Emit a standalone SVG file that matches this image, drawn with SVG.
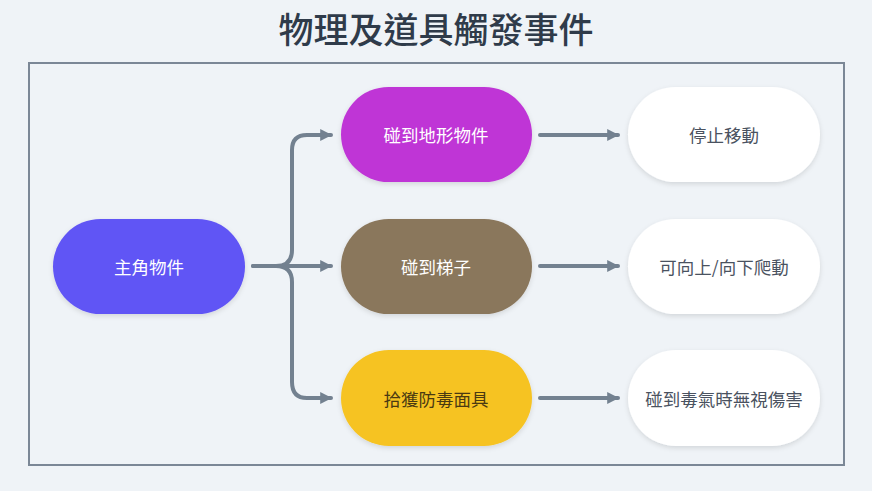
<svg xmlns="http://www.w3.org/2000/svg" width="872" height="491" viewBox="0 0 872 491">
<defs>
<filter id="sh" x="-20%" y="-20%" width="140%" height="150%">
<feDropShadow dx="0" dy="2" stdDeviation="2.5" flood-color="#000" flood-opacity="0.12"/>
</filter>
<marker id="arr" viewBox="0 0 10 10" refX="9" refY="5" markerWidth="3" markerHeight="3" orient="auto" markerUnits="strokeWidth">
<path d="M0,0 L10,5 L0,10 z" fill="#738190"/>
</marker>
<style>
.t{font-family:"Noto Sans CJK TC","Noto Sans CJK SC",sans-serif;font-size:17.5px;text-anchor:middle;dominant-baseline:central}
.c{fill:none;stroke:#738190;stroke-width:4;stroke-linecap:round;stroke-linejoin:round}
.n{filter:url(#sh)}
</style>
</defs>
<rect width="872" height="491" fill="#eff3f7"/>
<text x="436" y="27" font-family="'Noto Sans CJK TC','Noto Sans CJK SC',sans-serif" font-size="35" font-weight="500" fill="#2f3b4a" text-anchor="middle" dominant-baseline="central">物理及道具觸發事件</text>
<rect x="29" y="63" width="815" height="402" fill="none" stroke="#7b8796" stroke-width="2"/>
<g id="connectors">
<path class="c" d="M253,266 H276 Q292,266 292,250 V150 Q292,135 307,135 H331" marker-end="url(#arr)"/>
<path class="c" d="M253,266 H331" marker-end="url(#arr)"/>
<path class="c" d="M276,266 Q292,266 292,282 V382 Q292,398 307,398 H331" marker-end="url(#arr)"/>
<path class="c" d="M540,135 H618" marker-end="url(#arr)"/>
<path class="c" d="M540,266 H618" marker-end="url(#arr)"/>
<path class="c" d="M540,398 H618" marker-end="url(#arr)"/>
</g>
<g id="main">
<rect class="n" x="53" y="219" width="192" height="95" rx="47.5" fill="#6155f5"/>
<text class="t" x="149" y="266" fill="#ffffff">主角物件</text>
</g>
<g id="terrain">
<rect class="n" x="341" y="87" width="191" height="95" rx="47.5" fill="#bf36d6"/>
<text class="t" x="436" y="134" fill="#ffffff">碰到地形物件</text>
</g>
<g id="ladder">
<rect class="n" x="341" y="219" width="191" height="95" rx="47.5" fill="#8a775c"/>
<text class="t" x="436" y="266" fill="#ffffff">碰到梯子</text>
</g>
<g id="mask">
<rect class="n" x="341" y="350" width="191" height="96" rx="48" fill="#f6c324"/>
<text class="t" x="436" y="398" fill="#4a3a12">拾獲防毒面具</text>
</g>
<g id="stop">
<rect class="n" x="628" y="87" width="192" height="95" rx="47.5" fill="#ffffff"/>
<text class="t" x="724" y="134" fill="#4a5260">停止移動</text>
</g>
<g id="climb">
<rect class="n" x="628" y="219" width="192" height="95" rx="47.5" fill="#ffffff"/>
<text class="t" x="724" y="266" fill="#4a5260">可向上/向下爬動</text>
</g>
<g id="immune">
<rect class="n" x="628" y="350" width="192" height="96" rx="48" fill="#ffffff"/>
<text class="t" x="724" y="398" fill="#4a5260">碰到毒氣時無視傷害</text>
</g>
</svg>
